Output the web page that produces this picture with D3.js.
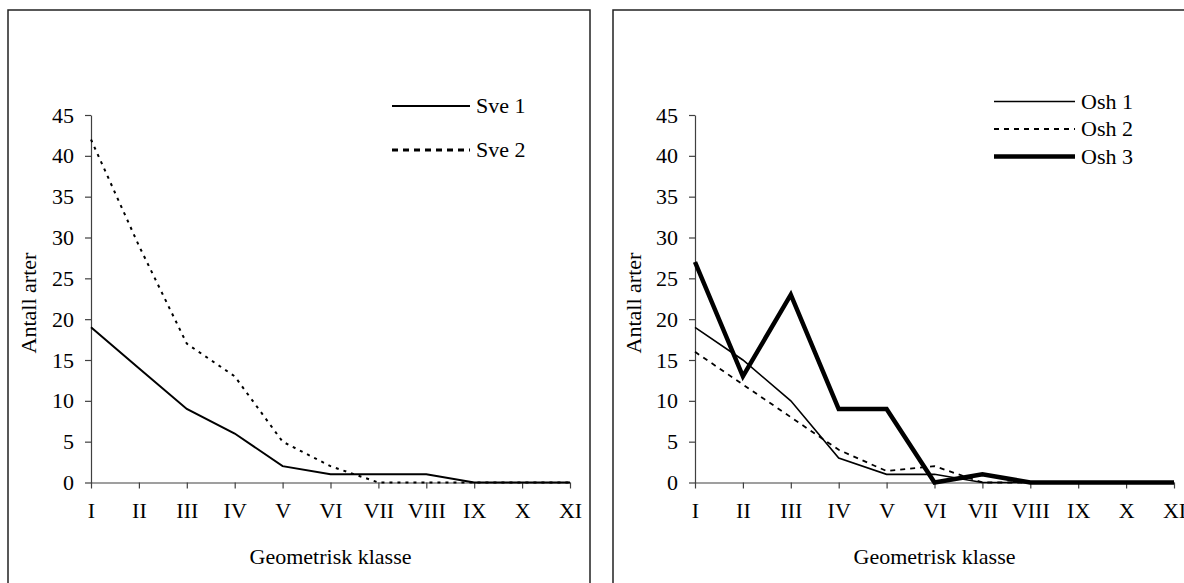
<!DOCTYPE html>
<html>
<head>
<meta charset="utf-8">
<script src="https://cdn.jsdelivr.net/npm/d3@7"></script>
<style>
  body { margin: 0; background: #fff; }
  svg { display: block; }
  text { font-family: "Liberation Serif", "Times New Roman", serif; fill: #000; }
  .axis text { font-size: 22px; }
  .axis path, .axis line { stroke: #404040; stroke-width: 1.2px; }
  .panel-border { fill: none; stroke: #222; stroke-width: 1.5px; }
</style>
</head>
<body>
<svg id="chart" width="1184" height="583"></svg>
<script>
// categories (geometric classes) and y ticks
const classes = ["I", "II", "III", "IV", "V", "VI", "VII", "VIII", "IX", "X", "XI"];
const yTicks = [0, 5, 10, 15, 20, 25, 30, 35, 40, 45];

// left panel series
const sve1 = [19, 14, 9, 6, 2, 1, 1, 1, 0, 0, 0];
const sve2 = [42, 29, 17, 13, 5, 2, 0, 0, 0, 0, 0];

// right panel series
const osh1 = [19, 15, 10, 3, 1, 1, 0, 0, 0, 0, 0];
const osh2 = [16, 12, 8, 4, 1.4, 2, 0, 0, 0, 0, 0];
const osh3 = [27, 13, 23, 9, 9, 0, 1, 0, 0, 0, 0];

class LineChart {
  constructor(_config, _series) {
    this.config = {
      svg: _config.svg,
      box: _config.box,           // panel frame
      plot: _config.plot,         // plot area: left, right, top, bottom
      legend: _config.legend
    };
    this.series = _series;
    this.initVis();
  }

  initVis() {
    let vis = this;
    const c = vis.config;

    vis.g = c.svg.append("g");

    // frame around the panel
    vis.g.append("rect")
      .attr("class", "panel-border")
      .attr("x", c.box.x)
      .attr("y", c.box.y)
      .attr("width", c.box.w)
      .attr("height", c.box.h);

    vis.xScale = d3.scalePoint()
      .domain(classes)
      .range([c.plot.left, c.plot.right]);

    vis.yScale = d3.scaleLinear()
      .domain([0, 45])
      .range([c.plot.bottom, c.plot.top]);

    vis.g.append("g")
      .attr("class", "axis y-axis")
      .attr("transform", `translate(${c.plot.left},0)`)
      .call(d3.axisLeft(vis.yScale).tickValues(yTicks).tickSize(6).tickSizeOuter(0).tickPadding(11));

    vis.g.append("g")
      .attr("class", "axis x-axis")
      .attr("transform", `translate(0,${c.plot.bottom})`)
      .call(d3.axisBottom(vis.xScale).tickSize(6).tickSizeOuter(0).tickPadding(14));

    // axis titles
    vis.g.append("text")
      .attr("x", (c.plot.left + c.plot.right) / 2)
      .attr("y", 564)
      .attr("text-anchor", "middle")
      .style("font-size", "22px")
      .text("Geometrisk klasse");

    vis.g.append("text")
      .attr("transform", `translate(${c.box.x + 28},303) rotate(-90)`)
      .attr("text-anchor", "middle")
      .style("font-size", "22px")
      .text("Antall arter");

    const line = d3.line()
      .x((d, i) => vis.xScale(classes[i]))
      .y(d => vis.yScale(d));

    vis.g.selectAll(".series")
      .data(vis.series)
      .join("path")
      .attr("class", "series")
      .attr("fill", "none")
      .attr("stroke", "#000")
      .attr("stroke-width", d => d.width)
      .attr("stroke-dasharray", d => d.dash || null)
      .attr("stroke-linejoin", "miter")
      .attr("d", d => line(d.values));

    // legend
    const leg = vis.g.selectAll(".legend-item")
      .data(vis.series)
      .join("g")
      .attr("class", "legend-item")
      .attr("transform", (d, i) => `translate(${c.legend.x},${c.legend.y + i * c.legend.step})`);

    leg.append("line")
      .attr("x1", 0)
      .attr("x2", c.legend.len)
      .attr("stroke", "#000")
      .attr("stroke-width", d => d.legendWidth || d.width)
      .attr("stroke-dasharray", d => d.legendDash || d.dash || null);

    leg.append("text")
      .attr("x", c.legend.len + 6)
      .attr("dy", "0.33em")
      .style("font-size", "22px")
      .text(d => d.name);
  }
}

const svg = d3.select("#chart");

new LineChart({
  svg: svg,
  box: { x: 8, y: 10, w: 582, h: 600 },
  plot: { left: 91, right: 570, top: 115, bottom: 482.5 },
  legend: { x: 392, y: 106, step: 44, len: 78 }
}, [
  { name: "Sve 1", values: sve1, width: 2 },
  { name: "Sve 2", values: sve2, width: 2, dash: "3,5", legendWidth: 3, legendDash: "6,5" }
]);

new LineChart({
  svg: svg,
  box: { x: 613, y: 10, w: 600, h: 600 },
  plot: { left: 695, right: 1174, top: 115, bottom: 482.5 },
  legend: { x: 994, y: 101.5, step: 27.5, len: 81 }
}, [
  { name: "Osh 1", values: osh1, width: 1.6 },
  { name: "Osh 2", values: osh2, width: 1.8, dash: "5,5" },
  { name: "Osh 3", values: osh3, width: 4.5 }
]);
</script>
</body>
</html>
